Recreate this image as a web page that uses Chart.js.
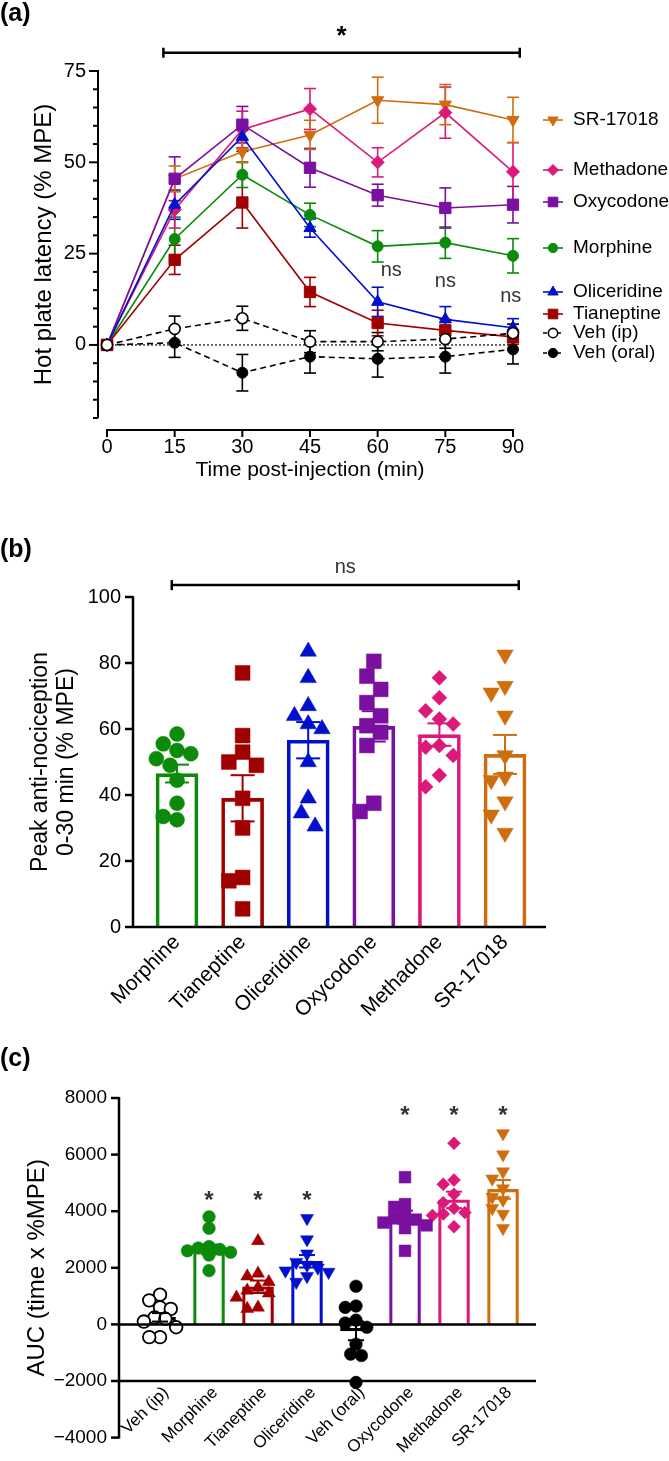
<!DOCTYPE html>
<html>
<head>
<meta charset="utf-8">
<title>Opioid anti-nociception</title>
<script src="https://cdn.jsdelivr.net/npm/chart.js@4.4.1/dist/chart.umd.min.js"></script>
<style>
  body { margin: 0; background: #fff; }
  #page { position: relative; width: 669px; height: 1461px; overflow: hidden; font-family: "Liberation Sans", Arial, sans-serif; }
  #page canvas { position: absolute; left: 0; }
  .panel-label { position: absolute; left: 0; font-weight: bold; font-size: 25px; line-height: 25px; }
</style>
</head>
<body>
<div id="page">
  <canvas id="timeChart" width="669" height="490" style="top:0"></canvas>
  <canvas id="peakChart" width="669" height="550" style="top:490px"></canvas>
  <canvas id="aucChart" width="669" height="421" style="top:1040px"></canvas>
  <div class="panel-label" style="top:0">(a)</div>
  <div class="panel-label" style="top:536px">(b)</div>
  <div class="panel-label" style="top:1045px">(c)</div>
</div>
<script>
const FONT = '"Liberation Sans", Arial, sans-serif';
Chart.defaults.font.family = FONT;
Chart.defaults.color = '#000';

// ---- (a) hot plate time course, mean and SEM (% MPE)
const times = [0, 15, 30, 45, 60, 75, 90];
const vehIpMean = [0, 4.4, 7.3, 0.9, 0.9, 1.6, 3.2];
const vehIpSem = [0, 3.5, 3.3, 3, 2.5, 2.5, 2.5];
const vehOralMean = [0, 0.6, -7.6, -3.2, -3.8, -3.2, -1.2];
const vehOralSem = [0, 4, 5, 4.5, 5, 4.5, 4];
const tianeptineMean = [0, 23.3, 39, 14.5, 6, 4, 2.2];
const tianeptineSem = [0, 4, 7, 4, 3.5, 3, 2];
const oliceridineMean = [0, 38.4, 57, 32, 11.8, 7, 4.7];
const oliceridineSem = [0, 4, 4, 2.5, 4, 3.5, 2.5];
const morphineMean = [0, 29, 46.6, 35.6, 27, 28, 24.4];
const morphineSem = [0, 6, 3.5, 3.2, 4.3, 4.3, 4.7];
const oxycodoneMean = [0, 45.5, 60.3, 48.5, 41, 37.5, 38.4];
const oxycodoneSem = [0, 6, 5, 5.3, 3, 5.5, 5];
const methadoneMean = [0, 37, 59, 64.6, 50, 63.6, 47.4];
const methadoneSem = [0, 5, 5, 5.6, 4, 7, 8];
const srMean = [0, 45.5, 52.9, 57.5, 67, 65.8, 61.6];
const srSem = [0, 3.5, 3, 4, 6.3, 5.5, 6.2];
const nsLabels = [{x: 63, y: 20.5}, {x: 75, y: 17.3}, {x: 89.5, y: 13.4}];
const legendOrder = ['SR-17018', 'Methadone', 'Oxycodone', 'Morphine', 'Oliceridine', 'Tianeptine', 'Veh (ip)', 'Veh (oral)'];

// ---- (b) peak anti-nociception 0-30 min, individual animals
const peakDrugs = ['Morphine', 'Tianeptine', 'Oliceridine', 'Oxycodone', 'Methadone', 'SR-17018'];
const peakMorphine = [58.5, 55.5, 53.5, 52.5, 51, 49, 44.5, 37.5, 33.5, 32.5];
const peakTianeptine = [77, 58, 53, 50, 49, 39, 30, 15, 14, 5.5];
const peakOliceridine = [83.5, 75.5, 67, 64, 61.5, 60, 50, 39, 34.5, 30.5];
const peakOxycodone = [80.5, 76, 72, 68, 64, 61, 59, 55, 37.5, 35];
const peakMethadone = [75.5, 69.5, 65.5, 63, 61.5, 55, 54.5, 52, 46, 42.5];
const peakSr = [82.5, 73, 71, 64, 52, 45.5, 44.5, 38, 34, 28.5];
const peakMean = [46.5, 39, 56.6, 60.8, 58.3, 52.3];
const peakSem = [2.7, 7.0, 5.5, 4.6, 3.4, 5.9];

// ---- (c) area under the curve
const aucDrugs = ['Veh (ip)', 'Morphine', 'Tianeptine', 'Oliceridine', 'Veh (oral)', 'Oxycodone', 'Methadone', 'SR-17018'];
const aucVehIp = [1050, 850, 600, 550, 250, 200, 100, -100, -450, -450];
const aucMorphine = [3800, 3400, 2750, 2700, 2650, 2600, 2550, 2500, 2450, 1900];
const aucTianeptine = [2950, 1800, 1700, 1500, 1300, 1200, 1100, 950, 600, 550];
const aucOliceridine = [3750, 3000, 2500, 2200, 2100, 2000, 1900, 1850, 1700, 1500];
const aucVehOral = [1350, 650, 600, 150, 50, -100, -700, -1050, -1100, -2050];
const aucOxycodone = [5200, 4250, 4150, 3800, 3750, 3700, 3600, 3500, 3400, 2600];
const aucMethadone = [6400, 5100, 4950, 4600, 4300, 4100, 3950, 3900, 3850, 3450];
const aucSr = [6750, 6000, 5400, 5150, 4800, 4500, 4400, 4100, 3900, 3400];
const aucMean = [250, 2650, 1330, 2230, -230, 3790, 4400, 4770];
const aucSem = [150, 170, 220, 220, 330, 230, 290, 330];
const aucStarY = [null, 4600, 4600, 4600, null, 7600, 7600, 7600];

const drugColors = {
  'Veh (ip)': '#000000', 'Veh (oral)': '#000000', Tianeptine: '#A00000', Oliceridine: '#0010CC',
  Morphine: '#0B8A0B', Oxycodone: '#7A10A0', Methadone: '#DC1878', 'SR-17018': '#CF6E0E'
};

function strokeLine(ctx, x1, y1, x2, y2) {
  ctx.beginPath();
  ctx.moveTo(x1, y1);
  ctx.lineTo(x2, y2);
  ctx.stroke();
}

function drawErrorBar(ctx, x, yLo, yHi, cap) {
  strokeLine(ctx, x, yLo, x, yHi);
  strokeLine(ctx, x - cap, yLo, x + cap, yLo);
  strokeLine(ctx, x - cap, yHi, x + cap, yHi);
}

function drawStar(ctx, cx, cy, size) {
  ctx.font = `bold ${size}px ${FONT}`;
  ctx.textAlign = 'center';
  ctx.textBaseline = 'alphabetic';
  ctx.fillText('*', cx, cy + 0.58 * size);
}

// spread overlapping dots sideways like a scatter dot plot
function swarm(values, center, yTol, xStep) {
  const offsets = [0, -0.5, 0.5, -1, 1, -1.5, 1.5, -2, 2];
  const placed = [];
  const order = values.map((v, i) => i).sort((a, b) => values[b] - values[a]);
  order.forEach(i => {
    const v = values[i];
    const free = offsets.find(k => !placed.some(p =>
      ((p.dx - k * xStep) / xStep) ** 2 + ((p.y - v) / yTol) ** 2 < 1));
    placed.push({dx: (free === undefined ? 0 : free) * xStep, y: v});
  });
  return placed.map(p => ({x: center + p.dx, y: p.y}));
}

// ================= (a) =================
const timeSeries = [
  {name: 'Veh (ip)', mean: vehIpMean, sem: vehIpSem, style: 'circle', radius: 5.5, rot: 0, fill: '#fff', dash: [6, 4], pbw: 1.6},
  {name: 'Veh (oral)', mean: vehOralMean, sem: vehOralSem, style: 'circle', radius: 5.5, rot: 0, dash: [6, 4], pbw: 1},
  {name: 'Tianeptine', mean: tianeptineMean, sem: tianeptineSem, style: 'rect', radius: 8, rot: 0, dash: [], pbw: 1},
  {name: 'Oliceridine', mean: oliceridineMean, sem: oliceridineSem, style: 'triangle', radius: 7, rot: 0, dash: [], pbw: 1},
  {name: 'Morphine', mean: morphineMean, sem: morphineSem, style: 'circle', radius: 5.5, rot: 0, dash: [], pbw: 1},
  {name: 'Oxycodone', mean: oxycodoneMean, sem: oxycodoneSem, style: 'rect', radius: 8, rot: 0, dash: [], pbw: 1},
  {name: 'Methadone', mean: methadoneMean, sem: methadoneSem, style: 'rectRot', radius: 6.5, rot: 0, dash: [], pbw: 1},
  {name: 'SR-17018', mean: srMean, sem: srSem, style: 'triangle', radius: 7, rot: 180, dash: [], pbw: 1}
];
timeSeries.forEach(s => { s.color = drugColors[s.name]; if (!s.fill) s.fill = s.color; });

const timeDecor = {
  id: 'timeDecor',
  beforeDatasetsDraw(chart) {
    const {ctx, scales: {x, y}} = chart;
    ctx.save();
    ctx.strokeStyle = '#000';
    ctx.lineWidth = 1.2;
    ctx.setLineDash([2, 2]);
    strokeLine(ctx, x.getPixelForValue(times[0]), y.getPixelForValue(0),
      x.getPixelForValue(times[times.length - 1]), y.getPixelForValue(0));
    ctx.setLineDash([]);
    ctx.lineWidth = 1.6;
    timeSeries.forEach(s => {
      ctx.strokeStyle = s.color;
      s.sem.forEach((e, i) => {
        if (!e) return;
        drawErrorBar(ctx, x.getPixelForValue(times[i]),
          y.getPixelForValue(s.mean[i] - e), y.getPixelForValue(s.mean[i] + e), 6);
      });
    });
    ctx.restore();
  },
  afterDraw(chart) {
    const {ctx, chartArea, scales: {x, y}} = chart;
    ctx.save();
    ctx.strokeStyle = '#000';
    ctx.fillStyle = '#000';
    ctx.lineWidth = 2;

    // y axis with minor ticks
    const left = chartArea.left;
    strokeLine(ctx, left, y.getPixelForValue(75) - 1, left, y.getPixelForValue(-20));
    for (let v = -20; v <= 75; v += 5) {
      const py = y.getPixelForValue(v);
      strokeLine(ctx, left - (v % 25 === 0 ? 9 : 5), py, left, py);
    }

    // offset x axis
    const axisY = chartArea.bottom + 12;
    strokeLine(ctx, x.getPixelForValue(0) - 1, axisY, x.getPixelForValue(90) + 1, axisY);
    times.forEach(t => {
      const px = x.getPixelForValue(t);
      strokeLine(ctx, px, axisY, px, axisY + 7);
    });

    // significance bracket
    ctx.lineWidth = 2.5;
    const bx1 = x.getPixelForValue(12.5), bx2 = x.getPixelForValue(91.5), by = y.getPixelForValue(80);
    strokeLine(ctx, bx1, by, bx2, by);
    strokeLine(ctx, bx1, by - 5, bx1, by + 5);
    strokeLine(ctx, bx2, by - 5, bx2, by + 5);
    drawStar(ctx, (bx1 + bx2) / 2, y.getPixelForValue(86.5), 26);

    ctx.fillStyle = '#333';
    ctx.font = `20px ${FONT}`;
    ctx.textAlign = 'center';
    ctx.textBaseline = 'middle';
    nsLabels.forEach(n => ctx.fillText('ns', x.getPixelForValue(n.x), y.getPixelForValue(n.y)));

    // legend, rows placed freely next to the line ends
    const legendRows = [120, 170, 202, 248, 292, 314, 333, 353];
    const lx = chartArea.right + 31;
    legendOrder.forEach((name, k) => {
      const s = timeSeries.find(t => t.name === name);
      const ly = legendRows[k];
      ctx.strokeStyle = s.color;
      ctx.lineWidth = 1.6;
      ctx.setLineDash(s.dash.length ? [4, 3] : []);
      strokeLine(ctx, lx - 10, ly, lx + 10, ly);
      ctx.setLineDash([]);
      ctx.fillStyle = s.fill;
      ctx.lineWidth = s.pbw;
      Chart.helpers.drawPoint(ctx, {pointStyle: s.style, radius: s.radius * 0.85, rotation: s.rot, borderWidth: 1}, lx, ly);
      ctx.fillStyle = '#000';
      ctx.font = `19px ${FONT}`;
      ctx.textAlign = 'left';
      ctx.textBaseline = 'middle';
      ctx.fillText(s.name, lx + 20, ly);
    });
    ctx.restore();
  }
};

new Chart(document.getElementById('timeChart'), {
  type: 'line',
  data: {
    datasets: timeSeries.map(s => ({
      label: s.name,
      data: times.map((t, i) => ({x: t, y: s.mean[i]})),
      borderColor: s.color,
      backgroundColor: s.fill,
      borderWidth: 1.6,
      borderDash: s.dash,
      tension: 0,
      pointStyle: s.style,
      pointRadius: s.radius,
      pointRotation: s.rot,
      pointBackgroundColor: s.fill,
      pointBorderColor: s.color,
      pointBorderWidth: s.pbw
    }))
  },
  options: {
    responsive: false,
    animation: false,
    events: [],
    layout: {padding: {left: 29.6, right: 147, top: 71, bottom: 0}},
    plugins: {legend: {display: false}, tooltip: {enabled: false}},
    scales: {
      x: {
        type: 'linear', min: -2, max: 92,
        afterBuildTicks: s => { s.ticks = times.map(v => ({value: v})); },
        afterFit: s => { s.height = 72; },
        grid: {display: false, drawTicks: false},
        border: {display: false},
        ticks: {padding: 17, font: {size: 20}, color: '#000', maxRotation: 0, autoSkip: false},
        title: {display: true, text: 'Time post-injection (min)', font: {size: 21}, color: '#000', padding: {top: 0, bottom: 7.5}}
      },
      y: {
        min: -20, max: 75,
        afterBuildTicks: s => { s.ticks = [0, 25, 50, 75].map(v => ({value: v})); },
        afterFit: s => { s.width = 68.4; },
        grid: {display: false, drawTicks: false},
        border: {display: false},
        ticks: {padding: 12, font: {size: 20}, color: '#000'},
        title: {display: true, text: 'Hot plate latency (% MPE)', font: {size: 24}, color: '#000', padding: 0}
      }
    }
  },
  plugins: [timeDecor]
});

// ================= (b) and (c) shared =================
const markerB = {
  Morphine: {style: 'circle', radius: 7.5, rot: 0},
  Tianeptine: {style: 'rect', radius: 10.5, rot: 0},
  Oliceridine: {style: 'triangle', radius: 9.5, rot: 0},
  Oxycodone: {style: 'rect', radius: 10.5, rot: 0},
  Methadone: {style: 'rectRot', radius: 7.5, rot: 0},
  'SR-17018': {style: 'triangle', radius: 9.5, rot: 180}
};
const markerC = {
  'Veh (ip)': {style: 'circle', radius: 6.3, rot: 0, fill: '#fff', bw: 1.8},
  Morphine: {style: 'circle', radius: 6.3, rot: 0},
  Tianeptine: {style: 'triangle', radius: 7.5, rot: 0},
  Oliceridine: {style: 'triangle', radius: 7.5, rot: 180},
  'Veh (oral)': {style: 'circle', radius: 6.3, rot: 0},
  Oxycodone: {style: 'rect', radius: 8.3, rot: 0},
  Methadone: {style: 'rectRot', radius: 6.5, rot: 0},
  'SR-17018': {style: 'triangle', radius: 7.5, rot: 180}
};

function barDecor(id, cfg) {
  return {
    id,
    afterDatasetsDraw(chart) {
      const {ctx, chartArea, scales: {x, y}} = chart;
      ctx.save();
      ctx.lineWidth = 2;
      cfg.means.forEach((m, i) => {
        ctx.strokeStyle = cfg.colors[i];
        drawErrorBar(ctx, x.getPixelForValue(i), y.getPixelForValue(m - cfg.sems[i]),
          y.getPixelForValue(m + cfg.sems[i]), cfg.cap);
      });
      ctx.strokeStyle = '#000';
      ctx.lineWidth = 2.5;
      strokeLine(ctx, chartArea.left, chartArea.top - 1, chartArea.left, chartArea.bottom + 1);
      y.ticks.forEach(t => {
        const py = y.getPixelForValue(t.value);
        strokeLine(ctx, chartArea.left - 8, py, chartArea.left, py);
      });
      cfg.baselines.forEach(v => {
        const py = y.getPixelForValue(v);
        strokeLine(ctx, chartArea.left, py, chartArea.right, py);
      });
      ctx.fillStyle = '#000';
      cfg.extra(chart, ctx);
      ctx.restore();
    }
  };
}

function dotDatasets(groups, names, markers, yTol, xStep) {
  return groups.map((g, i) => {
    const mk = markers[names[i]];
    const col = drugColors[names[i]];
    return {
      type: 'scatter',
      order: 1,
      data: swarm(g, i, yTol, xStep),
      pointStyle: mk.style,
      pointRadius: mk.radius,
      pointRotation: mk.rot,
      pointBackgroundColor: mk.fill || col,
      pointBorderColor: col,
      pointBorderWidth: mk.bw || 0.5
    };
  });
}

// ================= (b) =================
const peakGroups = [peakMorphine, peakTianeptine, peakOliceridine, peakOxycodone, peakMethadone, peakSr];
const peakColors = peakDrugs.map(d => drugColors[d]);

new Chart(document.getElementById('peakChart'), {
  type: 'bar',
  data: {
    datasets: [
      {
        type: 'bar',
        order: 2,
        data: peakMean.map((m, i) => ({x: i, y: m})),
        backgroundColor: 'rgba(255,255,255,0)',
        borderColor: peakColors,
        borderWidth: 3,
        borderSkipped: 'start',
        barThickness: 42
      },
      ...dotDatasets(peakGroups, peakDrugs, markerB, 4.8, 0.21)
    ]
  },
  options: {
    responsive: false,
    animation: false,
    events: [],
    layout: {padding: {left: 28.4, right: 123, top: 107, bottom: 0}},
    plugins: {legend: {display: false}, tooltip: {enabled: false}},
    scales: {
      x: {
        type: 'linear', min: -0.671, max: 5.625, offset: false,
        afterBuildTicks: s => { s.ticks = peakDrugs.map((d, i) => ({value: i})); },
        afterFit: s => { s.height = 113; },
        grid: {display: false, drawTicks: false},
        border: {display: false},
        ticks: {callback: v => peakDrugs[v], autoSkip: false, minRotation: 45, maxRotation: 45, padding: 3, font: {size: 21}, color: '#000'}
      },
      y: {
        min: 0, max: 100,
        afterBuildTicks: s => { s.ticks = [0, 20, 40, 60, 80, 100].map(v => ({value: v})); },
        afterFit: s => { s.width = 104.6; },
        grid: {display: false, drawTicks: false},
        border: {display: false},
        ticks: {padding: 12, font: {size: 20}, color: '#000'},
        title: {display: true, text: ['Peak anti-nociception', '0-30 min (% MPE)'], font: {size: 23, lineHeight: 1.1}, color: '#000', padding: 0}
      }
    }
  },
  plugins: [barDecor('peakDecor', {
    means: peakMean, sems: peakSem, colors: peakColors, cap: 12, baselines: [0],
    extra(chart, ctx) {
      const {x, y} = chart.scales;
      const bx1 = x.getPixelForValue(-0.08), bx2 = x.getPixelForValue(5.21), by = y.getPixelForValue(103.6);
      strokeLine(ctx, bx1, by, bx2, by);
      strokeLine(ctx, bx1, by - 5, bx1, by + 5);
      strokeLine(ctx, bx2, by - 5, bx2, by + 5);
      ctx.fillStyle = '#333';
      ctx.font = `20px ${FONT}`;
      ctx.textAlign = 'center';
      ctx.textBaseline = 'middle';
      ctx.fillText('ns', (bx1 + bx2) / 2, y.getPixelForValue(109));
    }
  })]
});

// ================= (c) =================
const aucGroups = [aucVehIp, aucMorphine, aucTianeptine, aucOliceridine, aucVehOral, aucOxycodone, aucMethadone, aucSr];
const aucColors = aucDrugs.map(d => drugColors[d]);

new Chart(document.getElementById('aucChart'), {
  type: 'bar',
  data: {
    datasets: [
      {
        type: 'bar',
        order: 2,
        data: aucMean.map((m, i) => ({x: i, y: m})),
        backgroundColor: 'rgba(255,255,255,0)',
        borderColor: aucColors,
        borderWidth: 2.5,
        borderSkipped: 'start',
        barThickness: 31
      },
      ...dotDatasets(aucGroups, aucDrugs, markerC, 360, 0.22)
    ]
  },
  options: {
    responsive: false,
    animation: false,
    events: [],
    layout: {padding: {left: 22.6, right: 133, top: 58, bottom: 0}},
    plugins: {legend: {display: false}, tooltip: {enabled: false}},
    scales: {
      x: {
        type: 'linear', min: -0.837, max: 7.673, offset: false,
        afterBuildTicks: s => { s.ticks = aucDrugs.map((d, i) => ({value: i})); },
        afterFit: s => { s.height = 15; },
        grid: {display: false, drawTicks: false},
        border: {display: false},
        ticks: {display: false}
      },
      y: {
        min: -4000, max: 8000,
        afterBuildTicks: s => { s.ticks = [-4000, -2000, 0, 2000, 4000, 6000, 8000].map(v => ({value: v})); },
        afterFit: s => { s.width = 96.4; },
        grid: {display: false, drawTicks: false},
        border: {display: false},
        ticks: {padding: 12, font: {size: 19}, color: '#000', callback: v => String(v).replace('-', '\u2212')},
        title: {display: true, text: 'AUC (time x %MPE)', font: {size: 24}, color: '#000', padding: 0}
      }
    }
  },
  plugins: [barDecor('aucDecor', {
    means: aucMean, sems: aucSem, colors: aucColors, cap: 8, baselines: [0, -2000],
    extra(chart, ctx) {
      const {x, y} = chart.scales;
      // category names hang from the -2000 line, not from the chart bottom
      const labelY = y.getPixelForValue(-2000) + 9;
      ctx.font = `17px ${FONT}`;
      ctx.textAlign = 'right';
      ctx.textBaseline = 'middle';
      aucDrugs.forEach((name, i) => {
        ctx.save();
        ctx.translate(x.getPixelForValue(i) + 6, labelY);
        ctx.rotate(-Math.PI / 4);
        ctx.fillText(name, 0, 0);
        ctx.restore();
      });
      ctx.fillStyle = '#333';
      aucStarY.forEach((v, i) => {
        if (v !== null) drawStar(ctx, x.getPixelForValue(i), y.getPixelForValue(v), 24);
      });
    }
  })]
});
</script>
</body>
</html>
